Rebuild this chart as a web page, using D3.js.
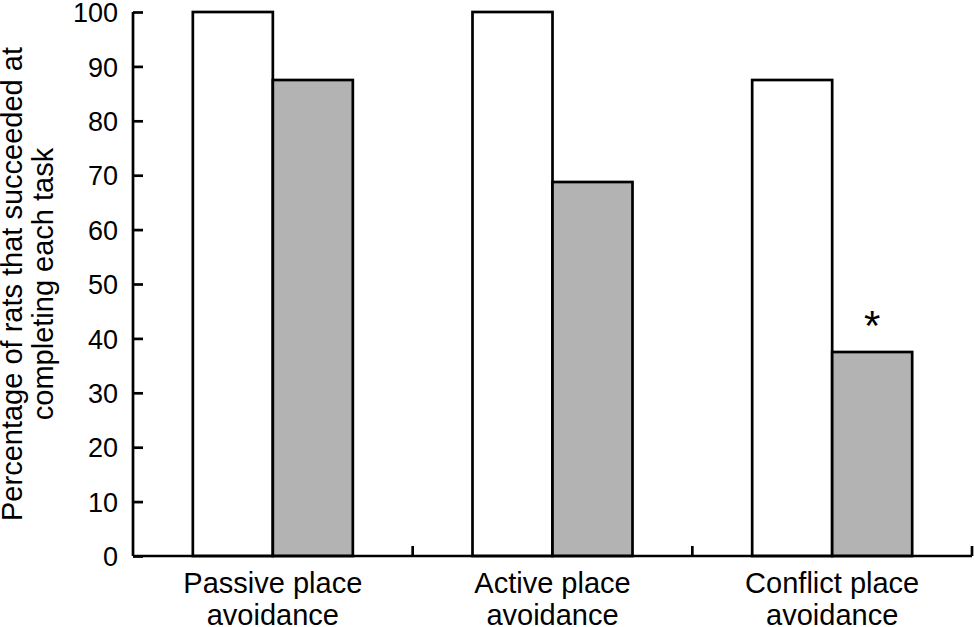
<!DOCTYPE html>
<html>
<head>
<meta charset="utf-8">
<script src="https://cdn.jsdelivr.net/npm/d3@7"></script>
<style>
  html, body { margin: 0; padding: 0; background: #fff; }
  svg { display: block; font-family: "Liberation Sans", Arial, sans-serif; }
</style>
</head>
<body>
<div id="chart"></div>
<script>
// Données
const tasks      = ['Passive place avoidance', 'Active place avoidance', 'Conflict place avoidance'];
const taskLines  = [['Passive place', 'avoidance'], ['Active place', 'avoidance'], ['Conflict place', 'avoidance']];
const groups     = ['control', 'treated'];
const control    = [100, 100, 87.5];
const treated    = [87.5, 68.75, 37.5];
const signif     = [false, false, true];
const yTicks     = [0, 10, 20, 30, 40, 50, 60, 70, 80, 90, 100];

const W = 974, H = 627;
const margin = { top: 12, right: 2, bottom: 71, left: 133 };
const innerW = W - margin.left - margin.right;
const innerH = H - margin.top - margin.bottom;

const fills = { control: '#ffffff', treated: '#b3b3b3' };

const rows = tasks.map((t, i) => ({
    task: t,
    lines: taskLines[i],
    values: [
        { key: 'control', value: control[i] },
        { key: 'treated', value: treated[i] }
    ],
    star: signif[i]
}));

const svg = d3.select('#chart').append('svg')
    .attr('width', W)
    .attr('height', H);

const g = svg.append('g')
    .attr('transform', `translate(${margin.left},${margin.top})`);

const x = d3.scaleBand().domain(tasks).range([0, innerW]).padding(0);
const barW = 80;
const xSub = d3.scaleBand().domain(groups)
    .range([(x.bandwidth() - 2 * barW) / 2, (x.bandwidth() + 2 * barW) / 2])
    .padding(0);
const y = d3.scaleLinear().domain([0, 100]).range([innerH, 0]);

// ── Barres ────────────────────────────────────────────────────────────────
const grp = g.selectAll('g.task')
    .data(rows)
    .join('g')
    .attr('class', 'task')
    .attr('transform', d => `translate(${x(d.task)},0)`);

grp.selectAll('rect')
    .data(d => d.values)
    .join('rect')
    .attr('x', d => xSub(d.key))
    .attr('width', xSub.bandwidth())
    .attr('y', d => y(d.value))
    .attr('height', d => innerH - y(d.value))
    .attr('fill', d => fills[d.key])
    .attr('stroke', '#000')
    .attr('stroke-width', 2.7);

// astérisque de significativité
grp.filter(d => d.star)
    .append('text')
    .attr('x', xSub('treated') + xSub.bandwidth() / 2)
    .attr('y', d => y(d.values[1].value) - 12)
    .attr('text-anchor', 'middle')
    .attr('font-size', '42px')
    .attr('fill', '#000')
    .text('*');

// ── Axe Y ─────────────────────────────────────────────────────────────────
const yAxis = g.append('g')
    .call(d3.axisRight(y).tickValues(yTicks).tickSize(10).tickFormat(d3.format('d')));
yAxis.select('.domain')
    .attr('d', `M0,${innerH}V0`)
    .attr('stroke-width', 2.7);
yAxis.selectAll('.tick line').attr('stroke-width', 2.7);
yAxis.selectAll('.tick text')
    .attr('x', -15)
    .attr('dy', '0.36em')
    .attr('text-anchor', 'end')
    .attr('font-size', '27px')
    .attr('font-family', '"Liberation Sans", Arial, sans-serif')
    .attr('fill', '#000');

// ── Axe X ─────────────────────────────────────────────────────────────────
const xAxisG = g.append('g').attr('transform', `translate(0,${innerH})`);
xAxisG.append('line')
    .attr('x1', 0).attr('x2', innerW)
    .attr('stroke', '#000').attr('stroke-width', 2.7);
const bounds = tasks.map(t => x(t) + x.bandwidth());
xAxisG.selectAll('line.tick')
    .data(bounds)
    .join('line')
    .attr('class', 'tick')
    .attr('x1', d => d).attr('x2', d => d)
    .attr('y1', 0).attr('y2', -10)
    .attr('stroke', '#000').attr('stroke-width', 2.7);

const labels = xAxisG.selectAll('text.cat')
    .data(rows)
    .join('text')
    .attr('class', 'cat')
    .attr('text-anchor', 'middle')
    .attr('font-size', '29px')
    .attr('fill', '#000')
    .attr('transform', d => `translate(${x(d.task) + x.bandwidth() / 2},37)`);
labels.selectAll('tspan')
    .data(d => d.lines)
    .join('tspan')
    .attr('x', 0)
    .attr('dy', (d, i) => i === 0 ? 0 : 31.5)
    .text(d => d);

// ── Titre Y ───────────────────────────────────────────────────────────────
const title = svg.append('text')
    .attr('text-anchor', 'middle')
    .attr('font-size', '29px')
    .attr('fill', '#000')
    .attr('transform', `translate(22,${margin.top + innerH / 2}) rotate(-90)`);
title.append('tspan').attr('x', 0).attr('dy', 0).text('Percentage of rats that succeeded at');
title.append('tspan').attr('x', 0).attr('dy', 31).text('completing each task');
</script>
</body>
</html>
